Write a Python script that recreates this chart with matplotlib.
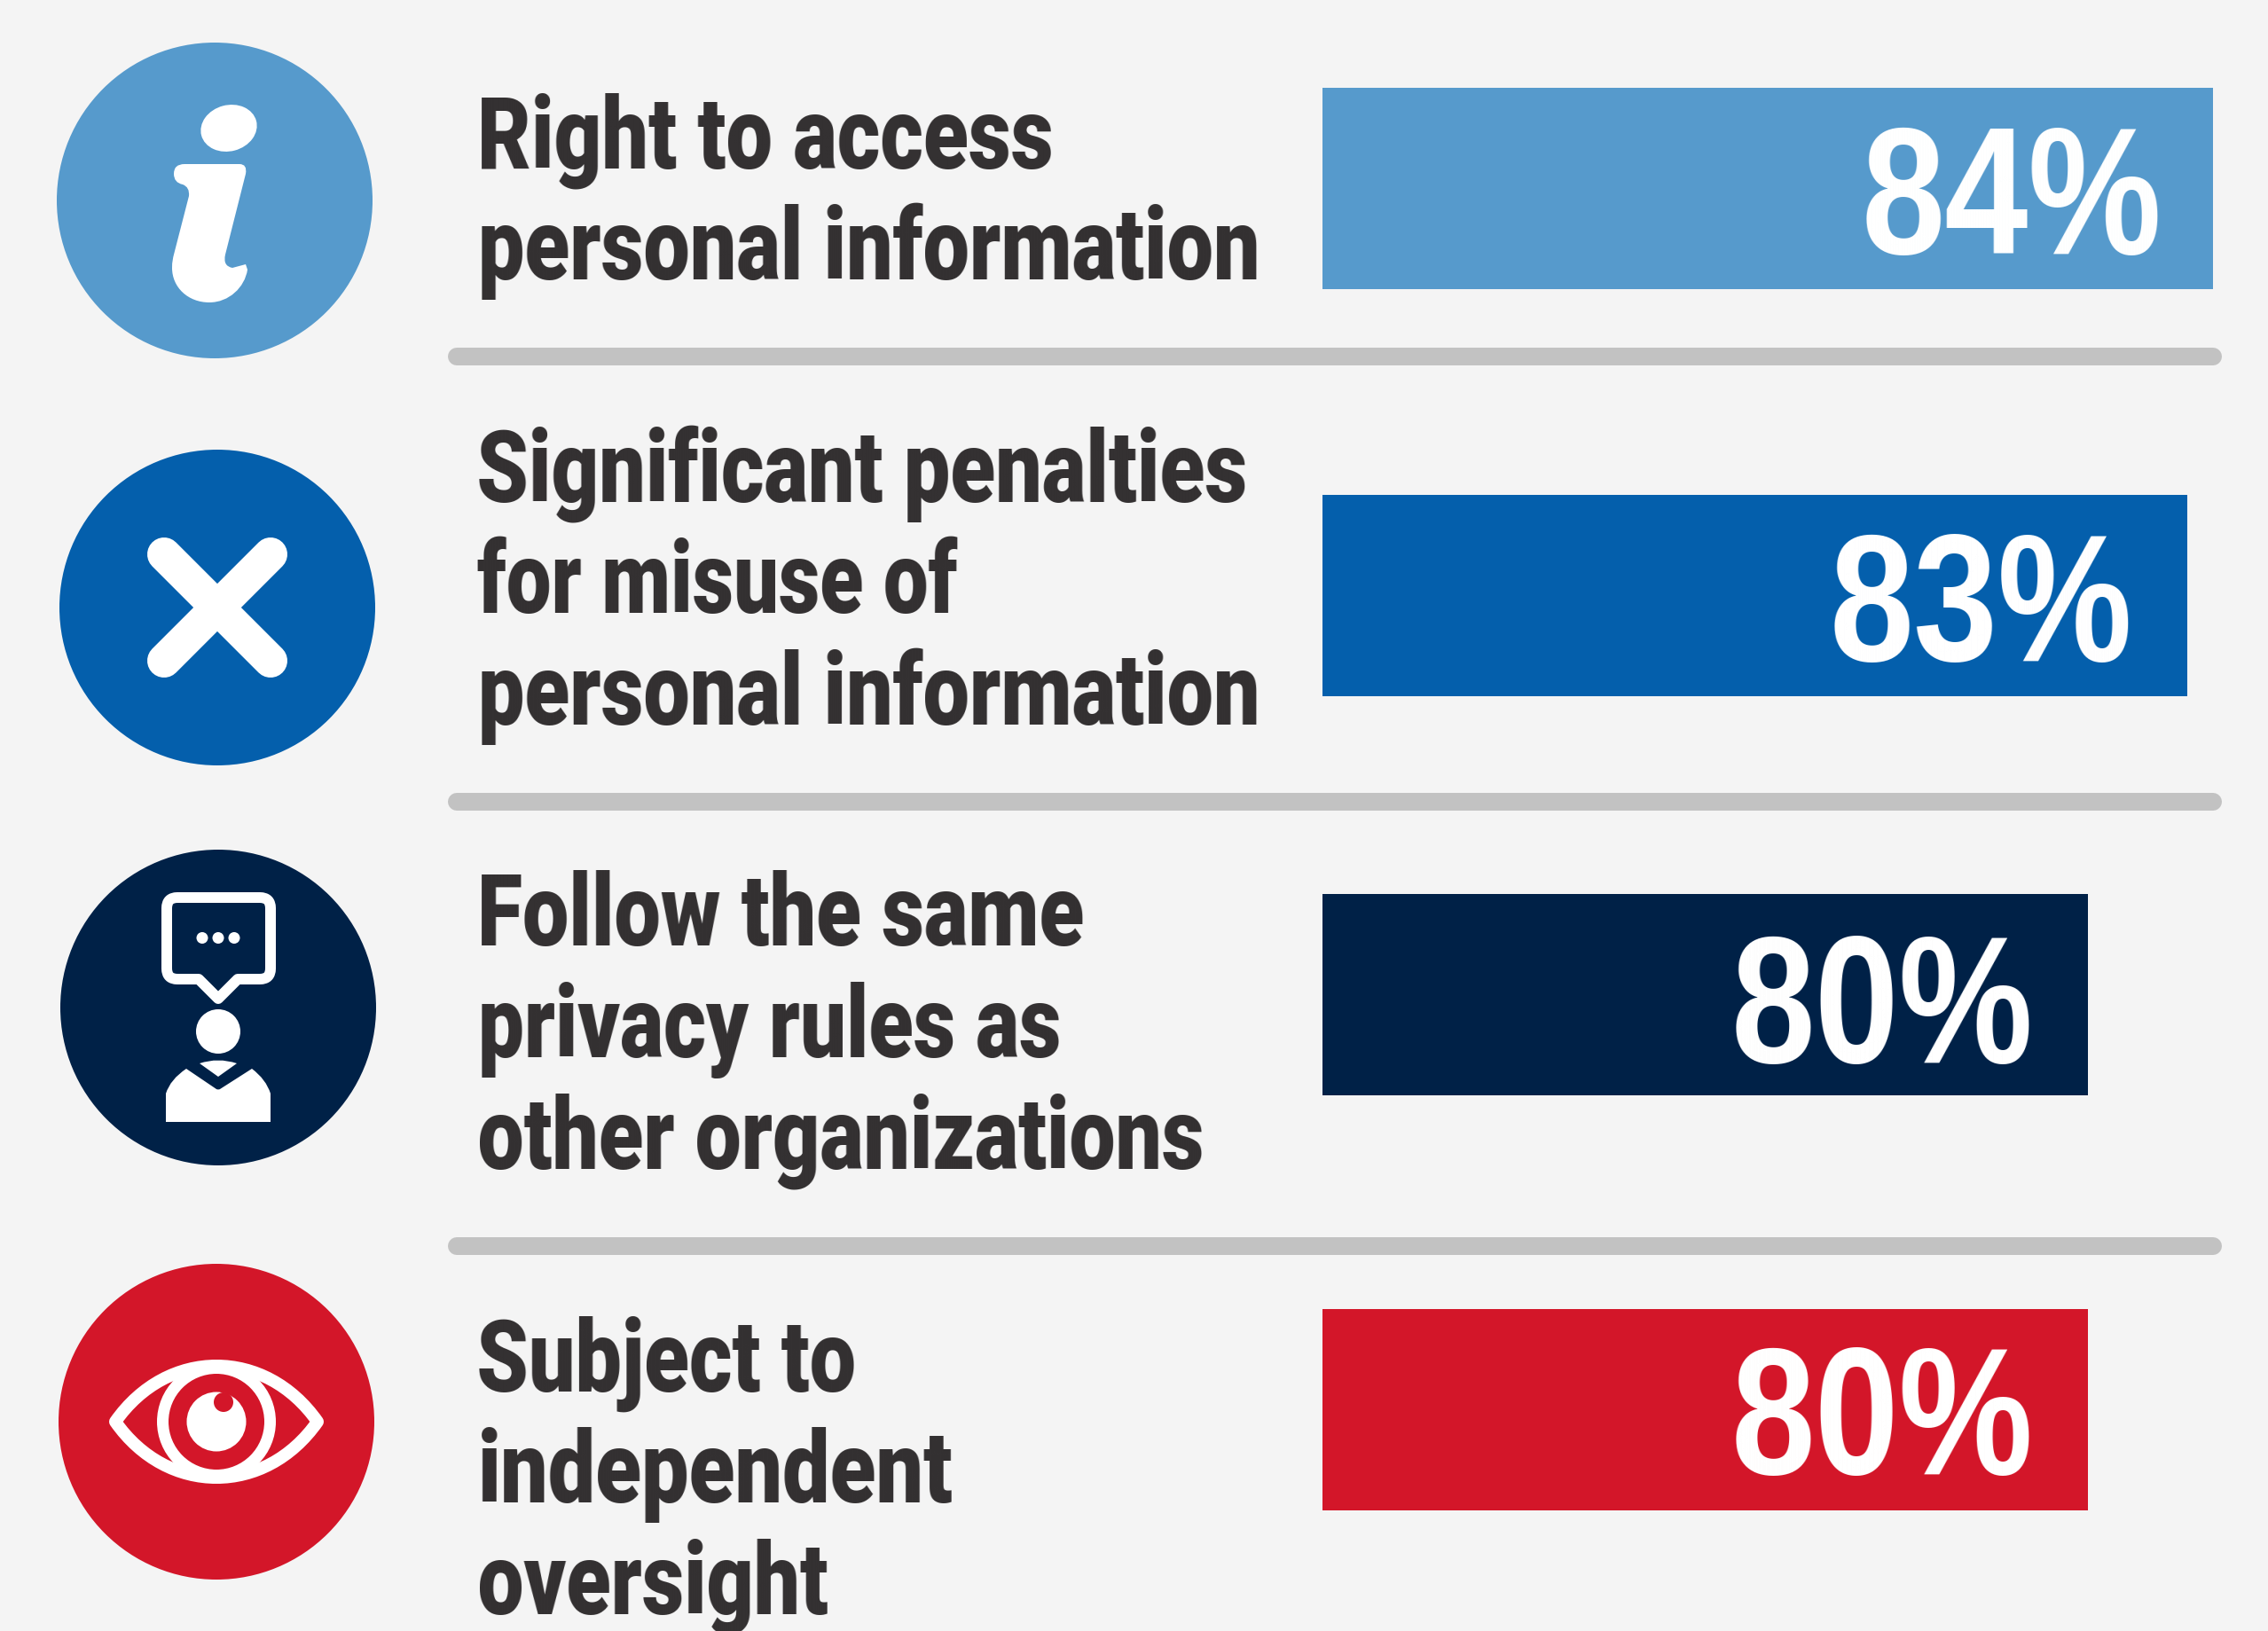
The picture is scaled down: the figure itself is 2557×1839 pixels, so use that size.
import numpy as np
import matplotlib
matplotlib.use("Agg")
import matplotlib.pyplot as plt
from matplotlib.colors import to_rgb
from matplotlib.font_manager import FontProperties
from matplotlib.patches import Circle, Ellipse, PathPatch
from matplotlib.path import Path
from matplotlib.textpath import TextPath

# ---- data ----
categories = [
    ["Right to access", "personal information"],
    ["Significant penalties", "for misuse of", "personal information"],
    ["Follow the same", "privacy rules as", "other organizations"],
    ["Subject to", "independent", "oversight"],
]
values = [84, 83, 80, 80]
value_labels = ["84%", "83%", "80%", "80%"]
colors = ["#569ACC", "#045FAC", "#002147", "#D31629"]

# ---- layout (pixels of the 2557x1840 canvas) ----
W, H = 2557, 1840
BG, GREY, INK = "#F4F4F4", "#C2C2C2", "#333031"
bar_tops = [100, 559, 1008.5, 1477]
bar_h = 227
bar_left = 1491
bar_right = 2495
label_extent = [(2104, 2433), (2068, 2400), (1957, 2288), (1957, 2288)]
label_base = [286, 745, 1198, 1662]
circles = [(242, 227), (245, 686), (246, 1137), (244, 1604)]
R = 178
rules_y = [403, 904.7, 1406]
text_baselines = [[189.5, 315.5], [565.5, 691.5, 817.5], [1066.5, 1192.5, 1317.5], [1568.5, 1694.5, 1819.5]]
text_extent = [
    [(543, 1185), (543, 1417)],
    [(541, 1405), (539, 1081), (543, 1417)],
    [(543, 1221), (543, 1194), (541, 1355)],
    [(541, 964), (543, 1073), (541, 933)],
]
LABEL_FONT = FontProperties(family="Roboto", weight=900, size=82)
VALUE_FONT = FontProperties(family="Liberation Sans", weight=700, size=147)


def squeeze(target_w, color):
    """Agg filter: narrow a rendered text horizontally to target_w pixels
    (no condensed family is installed)."""
    rgb = to_rgb(color)

    def _f(img, dpi):
        h, w = img.shape[:2]
        nw = max(1, int(round(target_w)))
        cum = np.concatenate([np.zeros((h, 1)), np.cumsum(img[..., 3], axis=1)], axis=1)
        edges = np.linspace(0, w, nw + 1)
        i0 = np.clip(np.floor(edges).astype(int), 0, w - 1)
        fr = (edges - i0)[None, :]
        vals = cum[:, i0] * (1 - fr) + cum[:, i0 + 1] * fr
        alpha = np.clip((vals[:, 1:] - vals[:, :-1]) * nw / w, 0, 1)
        out = np.zeros((h, nw, 4))
        out[..., 0], out[..., 1], out[..., 2] = rgb
        out[..., 3] = alpha
        return out, 0, 0
    return _f


def fitted_text(axes, s, extent, baseline, fp, color, **kw):
    px = fp.get_size_in_points() * 100 / 72
    ink = TextPath((0, 0), s, size=px, prop=fp).get_extents()
    t = axes.text(extent[0] - ink.x0, baseline, s, ha="left", va="baseline", color=color,
                  fontproperties=fp, **kw)
    t.set_agg_filter(squeeze(extent[1] - extent[0], color))
    return t


fig = plt.figure(figsize=(W / 100, H / 100), dpi=100, facecolor=BG)

# bars: the reference's bar lengths are not proportional, so use its own scale
anchors_v = [57, 80, 83, 84]
anchors_p = [0, 863, 975, 1004]
bx = fig.add_axes([bar_left / W, 0, (bar_right - bar_left) / W, 1])
bx.set_xscale("function", functions=(lambda v: np.interp(v, anchors_v, anchors_p),
                                     lambda p: np.interp(p, anchors_p, anchors_v)))
bx.set_xlim(57, 84)
bx.set_ylim(H, 0)
bx.axis("off")
bx.barh([t + bar_h / 2 for t in bar_tops], [v - 57 for v in values], left=57,
        height=bar_h, color=colors, linewidth=0)

ax = fig.add_axes([0, 0, 1, 1])
ax.set_xlim(0, W)
ax.set_ylim(H, 0)
ax.axis("off")
ax.patch.set_alpha(0)

# percentage labels
for s, ext, yb in zip(value_labels, label_extent, label_base):
    fitted_text(ax, s, ext, yb, VALUE_FONT, "white", zorder=5)

# category labels
for lines, bases, exts in zip(categories, text_baselines, text_extent):
    for s, yb, ext in zip(lines, bases, exts):
        fitted_text(ax, s, ext, yb, LABEL_FONT, INK)

# rules
for y in rules_y:
    ax.plot([515, 2495.5], [y, y], color=GREY, lw=20 * 0.72, solid_capstyle="round")

# circles
for (cx, cy), c in zip(circles, colors):
    ax.add_patch(Circle((cx, cy), R, color=c, lw=0))

M, L, Q, C, Z = Path.MOVETO, Path.LINETO, Path.CURVE3, Path.CURVE4, Path.CLOSEPOLY

# i icon
ax.add_patch(Ellipse((258, 145.5), 64, 52, angle=-15, color="white", lw=0))
stem_v = [(208, 186), (270, 186), (279, 186), (277, 197), (254, 288), (251, 301), (262, 303),
          (277, 299), (279, 305), (276, 325), (258, 342), (236, 342), (212, 342), (194, 325),
          (194, 303), (194, 296), (195, 292), (196, 288), (213, 222), (214, 212), (206, 209),
          (196, 207), (196, 197), (196, 186), (208, 186), (208, 186)]
stem_c = [M, L, Q, Q, L, Q, Q, L, L, C, C, C, C, C, C, C, C, C, L, Q, Q, Q, Q, Q, Q, Z]
ax.add_patch(PathPatch(Path(stem_v, stem_c), fc="white", lw=0))

# x icon
cx, cy = circles[1]
for sx in (1, -1):
    ax.plot([cx - 60 * sx, cx + 60 * sx], [cy - 60, cy + 60], color="white", lw=38 * 0.72,
            solid_capstyle="round")

# person + speech bubble icon
bubble_v = [(200, 1013), (293, 1013), (305, 1013), (305, 1025), (305, 1093), (305, 1105), (293, 1105),
            (268, 1105), (246, 1127), (224, 1105), (200, 1105), (188, 1105), (188, 1093),
            (188, 1025), (188, 1013), (200, 1013), (200, 1013)]
bubble_c = [M, L, Q, Q, L, Q, Q, L, L, L, L, Q, Q, L, Q, Q, Z]
ax.add_patch(PathPatch(Path(bubble_v, bubble_c), fc="none", ec="white", lw=12 * 0.72,
                       joinstyle="round"))
for dx in (228, 246, 264):
    ax.add_patch(Circle((dx, 1058.5), 6.5, color="white", lw=0))
ax.add_patch(Circle((246, 1164), 25, color="white", lw=0))
body_v = [(187, 1266), (305, 1266), (305, 1234), (300, 1218), (284, 1206), (248, 1229), (246, 1230), (244, 1229),
          (210, 1206), (192, 1218), (187, 1234), (187, 1266)]
body_c = [M, L, L, Q, Q, L, Q, Q, L, Q, Q, Z]
ax.add_patch(PathPatch(Path(body_v, body_c), fc="white", lw=0))
collar_v = [(225, 1200), (246, 1193), (267, 1200), (246, 1215), (225, 1200)]
ax.add_patch(PathPatch(Path(collar_v, [M, Q, Q, L, Z]), fc="white", lw=0))

# eye icon
ex, ey = circles[3]
outline = Path([(ex - 114, ey), (ex - 55, ey - 84), (ex + 55, ey - 84), (ex + 114, ey),
                (ex + 55, ey + 84), (ex - 55, ey + 84), (ex - 114, ey), (ex - 114, ey)],
               [M, C, C, C, C, C, C, Z])
ax.add_patch(PathPatch(outline, fc="none", ec="white", lw=14 * 0.72, joinstyle="round"))
ax.add_patch(Circle((ex, ey), 67, color="white", lw=0))
ax.add_patch(Circle((ex, ey), 54, color=colors[3], lw=0))
ax.add_patch(Circle((ex, ey), 33.5, color="white", lw=0))
ax.add_patch(Circle((ex + 8, ey - 22), 11, color=colors[3], lw=0))

fig.savefig("out.png", dpi=100, facecolor=BG)
